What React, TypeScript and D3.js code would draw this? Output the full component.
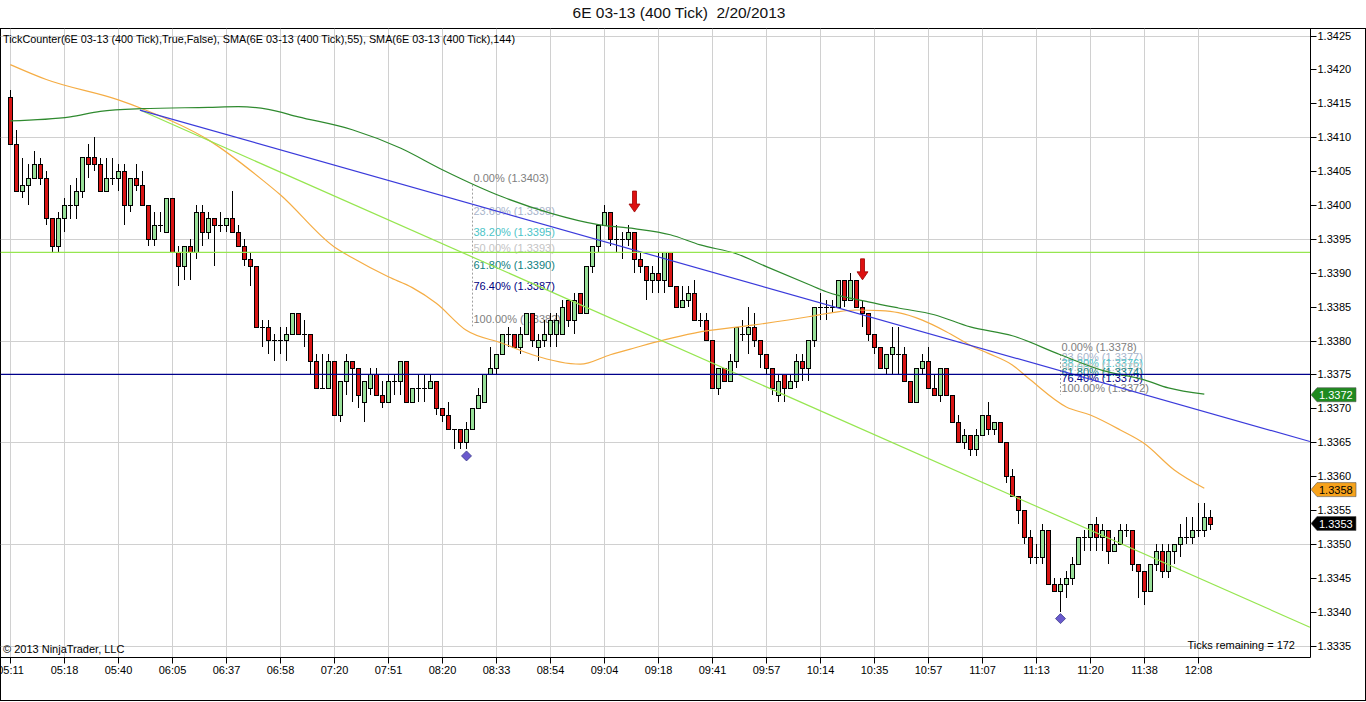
import React, { useEffect } from 'react'
import * as d3 from 'd3'

const W = 1366
const H = 702
const FONT = 'Arial, "Liberation Sans", sans-serif'

// time labels, one every 9 bars
const timeLabels = ['05:11', '05:18', '05:40', '06:05', '06:37', '06:58', '07:20', '07:51', '08:20', '08:33', '08:54', '09:04', '09:18', '09:41', '09:57', '10:14', '10:35', '10:57', '11:07', '11:13', '11:20', '11:38', '12:08']
const barsPerLabel = 9

// open, high, low, close
const ohlc: [number, number, number, number][] = [
  [1.3416, 1.3417, 1.3409, 1.3409], [1.3409, 1.3411, 1.3402, 1.3402], [1.3402, 1.3407, 1.3401, 1.3403], [1.3403, 1.3406, 1.3400, 1.3404],
  [1.3404, 1.3408, 1.3404, 1.3406], [1.3406, 1.3407, 1.3403, 1.3404], [1.3404, 1.3405, 1.3397, 1.3398], [1.3398, 1.3398, 1.3393, 1.3394],
  [1.3394, 1.3399, 1.3393, 1.3398], [1.3398, 1.3401, 1.3396, 1.3400], [1.3400, 1.3403, 1.3398, 1.3400], [1.3400, 1.3404, 1.3398, 1.3402],
  [1.3402, 1.3407, 1.3401, 1.3407], [1.3407, 1.3409, 1.3404, 1.3406], [1.3407, 1.3410, 1.3405, 1.3406], [1.3406, 1.3407, 1.3402, 1.3402],
  [1.3402, 1.3407, 1.3402, 1.3404], [1.3404, 1.3407, 1.3403, 1.3404], [1.3404, 1.3406, 1.3402, 1.3405], [1.3405, 1.3406, 1.3397, 1.3400],
  [1.3400, 1.3404, 1.3399, 1.3404], [1.3404, 1.3406, 1.3402, 1.3403], [1.3403, 1.3405, 1.3400, 1.3400], [1.3400, 1.3400, 1.3394, 1.3395],
  [1.3395, 1.3399, 1.3394, 1.3397], [1.3397, 1.3399, 1.3396, 1.3397], [1.3396, 1.3401, 1.3396, 1.3401], [1.3401, 1.3401, 1.3393, 1.3393],
  [1.3393, 1.3394, 1.3388, 1.3391], [1.3391, 1.3394, 1.3389, 1.3394], [1.3394, 1.3395, 1.3389, 1.3393], [1.3393, 1.3400, 1.3392, 1.3399],
  [1.3399, 1.3400, 1.3394, 1.3396], [1.3396, 1.3399, 1.3395, 1.3398], [1.3398, 1.3398, 1.3391, 1.3397], [1.3397, 1.3399, 1.3396, 1.3397],
  [1.3397, 1.3398, 1.3396, 1.3398], [1.3398, 1.3402, 1.3396, 1.3396], [1.3396, 1.3397, 1.3394, 1.3394], [1.3394, 1.3395, 1.3391, 1.3392],
  [1.3392, 1.3393, 1.3388, 1.3391], [1.3391, 1.3391, 1.3382, 1.3382], [1.3382, 1.3383, 1.3379, 1.3382], [1.3382, 1.3383, 1.3378, 1.3380],
  [1.3380, 1.3381, 1.3377, 1.3380], [1.3380, 1.3382, 1.3378, 1.3380], [1.3380, 1.3382, 1.3377, 1.3381], [1.3381, 1.3384, 1.3381, 1.3384],
  [1.3384, 1.3384, 1.3381, 1.3381], [1.3381, 1.3383, 1.3379, 1.3381], [1.3381, 1.3381, 1.3375, 1.3377], [1.3377, 1.3378, 1.3373, 1.3373],
  [1.3373, 1.3378, 1.3373, 1.3373], [1.3373, 1.3378, 1.3373, 1.3377], [1.3377, 1.3377, 1.3369, 1.3369], [1.3369, 1.3374, 1.3368, 1.3374],
  [1.3374, 1.3378, 1.3372, 1.3377], [1.3377, 1.3377, 1.3371, 1.3376], [1.3376, 1.3376, 1.3370, 1.3372], [1.3371, 1.3374, 1.3368, 1.3374],
  [1.3373, 1.3376, 1.3372, 1.3375], [1.3375, 1.3376, 1.3372, 1.3372], [1.3372, 1.3374, 1.3370, 1.3371], [1.3371, 1.3375, 1.3371, 1.3374],
  [1.3374, 1.3375, 1.3372, 1.3374], [1.3374, 1.3377, 1.3372, 1.3377], [1.3377, 1.3377, 1.3371, 1.3371], [1.3371, 1.3373, 1.3371, 1.3373],
  [1.3373, 1.3375, 1.3371, 1.3373], [1.3373, 1.3375, 1.3371, 1.3373], [1.3373, 1.3375, 1.3373, 1.3374], [1.3374, 1.3374, 1.3369, 1.3370],
  [1.3370, 1.3370, 1.3368, 1.3369], [1.3369, 1.3371, 1.3367, 1.3367], [1.3367, 1.3367, 1.3364, 1.3367], [1.3367, 1.3367, 1.3364, 1.3365],
  [1.3365, 1.3368, 1.3364, 1.3367], [1.3367, 1.3370, 1.3367, 1.3370], [1.3370, 1.3373, 1.3370, 1.3372], [1.3371, 1.3375, 1.3371, 1.3375],
  [1.3375, 1.3379, 1.3375, 1.3376], [1.3376, 1.3378, 1.3375, 1.3378], [1.3378, 1.3381, 1.3378, 1.3381], [1.3381, 1.3382, 1.3379, 1.3381],
  [1.3381, 1.3381, 1.3379, 1.3379], [1.3379, 1.3382, 1.3378, 1.3381], [1.3381, 1.3384, 1.3381, 1.3384], [1.3384, 1.3384, 1.3379, 1.3380],
  [1.3379, 1.3381, 1.3377, 1.3380], [1.3380, 1.3383, 1.3379, 1.3381], [1.3381, 1.3384, 1.3379, 1.3383], [1.3381, 1.3384, 1.3379, 1.3383],
  [1.3381, 1.3386, 1.3381, 1.3385], [1.3386, 1.3386, 1.3382, 1.3383], [1.3383, 1.3387, 1.3381, 1.3386], [1.3387, 1.3387, 1.3384, 1.3384],
  [1.3384, 1.3391, 1.3384, 1.3391], [1.3391, 1.3394, 1.3390, 1.3394], [1.3394, 1.3397, 1.3393, 1.3397], [1.3397, 1.3400, 1.3397, 1.3399],
  [1.3399, 1.3399, 1.3394, 1.3395], [1.3395, 1.3397, 1.3393, 1.3395], [1.3395, 1.3396, 1.3392, 1.3395], [1.3395, 1.3397, 1.3394, 1.3396],
  [1.3396, 1.3396, 1.3390, 1.3392], [1.3392, 1.3393, 1.3390, 1.3391], [1.3391, 1.3391, 1.3386, 1.3389], [1.3389, 1.3391, 1.3387, 1.3390],
  [1.3390, 1.3393, 1.3387, 1.3389], [1.3389, 1.3393, 1.3387, 1.3393], [1.3393, 1.3393, 1.3388, 1.3388], [1.3388, 1.3388, 1.3385, 1.3385],
  [1.3385, 1.3388, 1.3385, 1.3386], [1.3386, 1.3388, 1.3385, 1.3387], [1.3387, 1.3389, 1.3383, 1.3383], [1.3383, 1.3384, 1.3382, 1.3383],
  [1.3383, 1.3384, 1.3380, 1.3380], [1.3380, 1.3380, 1.3373, 1.3373], [1.3373, 1.3376, 1.3372, 1.3376], [1.3376, 1.3376, 1.3374, 1.3374],
  [1.3374, 1.3378, 1.3374, 1.3377], [1.3377, 1.3382, 1.3376, 1.3382], [1.3381, 1.3383, 1.3380, 1.3381], [1.3381, 1.3385, 1.3378, 1.3382],
  [1.3382, 1.3384, 1.3379, 1.3380], [1.3380, 1.3380, 1.3376, 1.3378], [1.3378, 1.3378, 1.3375, 1.3376], [1.3376, 1.3376, 1.3372, 1.3373],
  [1.3372, 1.3375, 1.3371, 1.3374], [1.3375, 1.3375, 1.3371, 1.3373], [1.3373, 1.3375, 1.3373, 1.3374], [1.3374, 1.3378, 1.3373, 1.3377],
  [1.3377, 1.3378, 1.3374, 1.3376], [1.3376, 1.3380, 1.3374, 1.3380], [1.3380, 1.3385, 1.3379, 1.3385], [1.3385, 1.3387, 1.3383, 1.3385],
  [1.3385, 1.3386, 1.3383, 1.3385], [1.3385, 1.3386, 1.3384, 1.3385], [1.3385, 1.3389, 1.3385, 1.3389], [1.3389, 1.3389, 1.3385, 1.3386],
  [1.3386, 1.3390, 1.3386, 1.3389], [1.3389, 1.3389, 1.3385, 1.3385], [1.3385, 1.3386, 1.3382, 1.3384], [1.3384, 1.3384, 1.3380, 1.3381],
  [1.3381, 1.3381, 1.3378, 1.3379], [1.3379, 1.3379, 1.3376, 1.3376], [1.3376, 1.3378, 1.3375, 1.3378], [1.3378, 1.3382, 1.3375, 1.3379],
  [1.3378, 1.3382, 1.3375, 1.3378], [1.3378, 1.3379, 1.3374, 1.3374], [1.3374, 1.3374, 1.3371, 1.3371], [1.3371, 1.3376, 1.3371, 1.3376],
  [1.3376, 1.3378, 1.3375, 1.3377], [1.3377, 1.3379, 1.3373, 1.3373], [1.3373, 1.3375, 1.3372, 1.3372], [1.3372, 1.3376, 1.3371, 1.3376],
  [1.3376, 1.3376, 1.3372, 1.3372], [1.3372, 1.3372, 1.3368, 1.3368], [1.3368, 1.3369, 1.3365, 1.3365], [1.3365, 1.3367, 1.3364, 1.3366],
  [1.3366, 1.3366, 1.3363, 1.3364], [1.3364, 1.3367, 1.3363, 1.3366], [1.3366, 1.3369, 1.3366, 1.3369], [1.3369, 1.3371, 1.3366, 1.3367],
  [1.3367, 1.3368, 1.3366, 1.3368], [1.3368, 1.3368, 1.3365, 1.3365], [1.3365, 1.3365, 1.3359, 1.3360], [1.3360, 1.3361, 1.3357, 1.3357],
  [1.3357, 1.3357, 1.3353, 1.3355], [1.3355, 1.3355, 1.3350, 1.3351], [1.3351, 1.3352, 1.3347, 1.3348], [1.3348, 1.3350, 1.3347, 1.3348],
  [1.3348, 1.3353, 1.3347, 1.3352], [1.3352, 1.3352, 1.3344, 1.3344], [1.3344, 1.3345, 1.3343, 1.3343], [1.3343, 1.3345, 1.3340, 1.3344],
  [1.3344, 1.3346, 1.3342, 1.3345], [1.3345, 1.3348, 1.3344, 1.3347], [1.3347, 1.3351, 1.3347, 1.3351], [1.3351, 1.3352, 1.3349, 1.3351],
  [1.3351, 1.3353, 1.3349, 1.3353], [1.3353, 1.3354, 1.3349, 1.3351], [1.3351, 1.3353, 1.3349, 1.3352], [1.3352, 1.3352, 1.3347, 1.3349],
  [1.3349, 1.3351, 1.3349, 1.3350], [1.3350, 1.3353, 1.3350, 1.3352], [1.3352, 1.3353, 1.3351, 1.3352], [1.3352, 1.3352, 1.3346, 1.3347],
  [1.3347, 1.3347, 1.3342, 1.3346], [1.3346, 1.3346, 1.3341, 1.3343], [1.3343, 1.3347, 1.3343, 1.3347], [1.3347, 1.3350, 1.3346, 1.3349],
  [1.3349, 1.3350, 1.3345, 1.3346], [1.3346, 1.3350, 1.3345, 1.3349], [1.3349, 1.3350, 1.3347, 1.3350], [1.3350, 1.3353, 1.3348, 1.3351],
  [1.3351, 1.3354, 1.3350, 1.3351], [1.3351, 1.3354, 1.3350, 1.3352], [1.3352, 1.3356, 1.3351, 1.3352], [1.3352, 1.3356, 1.3351, 1.3354],
  [1.3354, 1.3355, 1.3352, 1.3353],
]

// SMA readings: [bar index, value]
const sma55: [number, number][] = [
  [0, 1.34207], [6, 1.34185], [18, 1.34155], [22, 1.34142], [33, 1.34096], [42, 1.34037], [45, 1.34015], [54, 1.33938],
  [57, 1.33922], [63, 1.33894], [67, 1.33878], [71, 1.33855], [76, 1.33815], [82, 1.33796], [87, 1.33779], [95, 1.33765],
  [100, 1.33779], [104, 1.33789], [109, 1.33801], [114, 1.33811], [124, 1.33823], [133, 1.33835], [137, 1.33841], [141, 1.33845],
  [145, 1.33844], [148, 1.33841], [152, 1.3383], [156, 1.33813], [160, 1.33793], [163, 1.33781], [167, 1.33764], [170, 1.33742],
  [176, 1.33702], [180, 1.3369], [185, 1.33668], [189, 1.33648], [194, 1.33609], [199, 1.33582],
]
const sma144: [number, number][] = [
  [0, 1.34124], [10, 1.3413], [15, 1.34138], [22, 1.34142], [33, 1.34144], [38, 1.34145], [43, 1.34141], [48, 1.3413],
  [57, 1.34111], [65, 1.34084], [72, 1.34052], [82, 1.34012], [90, 1.33988], [98, 1.33971], [104, 1.33965], [110, 1.33956],
  [115, 1.33941], [121, 1.33928], [126, 1.33909], [133, 1.33883], [136, 1.33872], [143, 1.33857], [148, 1.33848], [154, 1.33838],
  [160, 1.3382], [167, 1.33807], [175, 1.33779], [182, 1.33756], [189, 1.33742], [193, 1.3373], [199, 1.33721],
]

// drawn objects
const trendBlue: [number, number][] = [[21.6, 1.3414], [216.6, 1.33651]]
const trendLime: [number, number][] = [[21.6, 1.3414], [216.6, 1.33377]]
const hLines = [
  { price: 1.3393, color: '#96e650' },
  { price: 1.3375, color: '#00008b' },
]
const fibRatios = [0, 0.236, 0.382, 0.5, 0.618, 0.764, 1]
const fibColors = ['#808080', '#a9b5cc', '#4cc4c8', '#c4c4c4', '#108080', '#000080', '#808080']
const fibs = [
  { bar: 77, high: 1.3403, low: 1.33821 },
  { bar: 175, high: 1.3378, low: 1.3372 },
]
const downArrows = [104, 142]
const diamonds = [76, 175]
const priceTags = [
  { price: 1.3372, fill: '#1f8a1f', text: '#ffffff' },
  { price: 1.3358, fill: '#f7a21b', text: '#000000' },
  { price: 1.3353, fill: '#000000', text: '#ffffff' },
]

const PLOT = { left: 0.5, right: 1310.5, top: 28.5, bottom: 657.5 }

export default function App() {
  useEffect(() => {
    document.body.style.margin = '0'
    document.body.style.overflow = 'hidden'
  }, [])

  const x = d3.scaleLinear().domain([0, 200]).range([10.3, 1210.3])
  const y = d3.scaleLinear().domain([1.3335, 1.3425]).range([645.5, 35.5])

  const priceTicks = d3.range(0, 19).map((i) => 1.3335 + i * 0.0005)
  const gridPrices = d3.range(0, 7).map((i) => 1.3335 + i * 0.0015)

  const smaLine = d3.line<[number, number]>()
    .x((d) => x(d[0]))
    .y((d) => y(d[1]))
    .curve(d3.curveMonotoneX)
  const straight = d3.line<[number, number]>().x((d) => x(d[0])).y((d) => y(d[1]))

  const up = '#98e098'
  const down = '#d81414'

  return (
    <svg width={W} height={H} style={{ display: 'block', background: '#fff' }} fontFamily={FONT}>
      <defs>
        <clipPath id="plot">
          <rect x={PLOT.left} y={PLOT.top} width={PLOT.right - PLOT.left} height={PLOT.bottom - PLOT.top} />
        </clipPath>
      </defs>

      <text x={679} y={18} textAnchor="middle" fontSize={15.5} fill="#111" style={{ whiteSpace: 'pre' }}>
        {'6E 03-13 (400 Tick)  2/20/2013'}
      </text>

      {/* outer frame */}
      <rect x={0.5} y={28.5} width={1365} height={672} fill="none" stroke="#000" />

      <g clipPath="url(#plot)">
        {/* grid */}
        {timeLabels.map((t, i) => (
          <line key={t} x1={Math.round(x(i * barsPerLabel)) + 0.5} x2={Math.round(x(i * barsPerLabel)) + 0.5}
            y1={PLOT.top} y2={PLOT.bottom} stroke="#d0d0d0" />
        ))}
        {gridPrices.map((p) => (
          <line key={p} x1={PLOT.left} x2={PLOT.right} y1={Math.round(y(p)) + 0.5} y2={Math.round(y(p)) + 0.5} stroke="#d0d0d0" />
        ))}

        {/* fibonacci retracements */}
        {fibs.map((f, fi) => {
          const fx = Math.round(x(f.bar)) + 0.5
          return (
            <g key={fi}>
              <line x1={fx} x2={fx} y1={y(f.high)} y2={y(f.low)} stroke="#a0a0a0" strokeDasharray="2,2" />
              {fibRatios.map((r, ri) => {
                const p = f.high - r * (f.high - f.low)
                return (
                  <text key={r} x={fx + 1} y={y(p) - 3} fontSize={11} fill={fibColors[ri]}>
                    {`${(r * 100).toFixed(2)}% (${p.toFixed(4)})`}
                  </text>
                )
              })}
            </g>
          )
        })}

        {/* candles */}
        <g shapeRendering="crispEdges">
          {ohlc.map(([o, h, l, c], i) => {
            const cx = Math.round(x(i)) + 0.5
            const top = Math.round(y(Math.max(o, c)))
            const bot = Math.round(y(Math.min(o, c)))
            return (
              <g key={i}>
                <line x1={cx} x2={cx} y1={y(Math.max(h, o, c))} y2={y(Math.min(l, o, c))} stroke="#000" />
                {o === c ? (
                  <line x1={cx - 2.5} x2={cx + 2.5} y1={top + 0.5} y2={top + 0.5} stroke="#000" />
                ) : (
                  <rect x={cx - 2} y={top + 0.5} width={4} height={Math.max(1, bot - top)}
                    fill={c > o ? up : down} stroke="#000" />
                )}
              </g>
            )
          })}
        </g>

        {/* moving averages */}
        <path d={smaLine(sma55) ?? ''} fill="none" stroke="#f5ad45" strokeWidth={1.2} />
        <path d={smaLine(sma144) ?? ''} fill="none" stroke="#2f8a2f" strokeWidth={1.2} />

        {/* trend lines */}
        <path d={straight(trendLime) ?? ''} fill="none" stroke="#96e650" strokeWidth={1.2} />
        <path d={straight(trendBlue) ?? ''} fill="none" stroke="#3b3bdb" strokeWidth={1.2} />
        {hLines.map((hl) => (
          <line key={hl.price} x1={PLOT.left} x2={PLOT.right} y1={y(hl.price)} y2={y(hl.price)} stroke={hl.color} strokeWidth={1.2} />
        ))}

        {/* signals */}
        {downArrows.map((b) => {
          const cx = Math.round(x(b)) + 0.5
          const tip = y(ohlc[b][1]) - 20
          const pts = [
            [cx - 2, tip - 21], [cx + 2, tip - 21], [cx + 2, tip - 8], [cx + 5.5, tip - 8],
            [cx, tip], [cx - 5.5, tip - 8], [cx - 2, tip - 8],
          ].map((p) => p.join(',')).join(' ')
          return <polygon key={b} points={pts} fill="#dd1111" stroke="#9a0000" strokeWidth={0.8} />
        })}
        {diamonds.map((b) => {
          const cx = Math.round(x(b)) + 0.5
          const cy = y(ohlc[b][2]) + 7
          const pts = [[cx, cy - 5], [cx + 5, cy], [cx, cy + 5], [cx - 5, cy]].map((p) => p.join(',')).join(' ')
          return <polygon key={b} points={pts} fill="#6a5acd" stroke="#3a3a8a" strokeWidth={0.8} />
        })}

        <text x={3} y={43} fontSize={11} fill="#000" textLength={512} lengthAdjust="spacingAndGlyphs">
          TickCounter(6E 03-13 (400 Tick),True,False), SMA(6E 03-13 (400 Tick),55), SMA(6E 03-13 (400 Tick),144)
        </text>
        <text x={3} y={653} fontSize={11} fill="#000">© 2013 NinjaTrader, LLC</text>
        <text x={1295} y={649} fontSize={11} fill="#000" textAnchor="end">Ticks remaining = 172</text>
      </g>

      {/* axes */}
      <line x1={PLOT.right} x2={PLOT.right} y1={PLOT.top} y2={PLOT.bottom} stroke="#000" />
      <line x1={0} x2={PLOT.right} y1={PLOT.bottom} y2={PLOT.bottom} stroke="#000" />

      {priceTicks.map((p) => (
        <g key={p}>
          <line x1={PLOT.right} x2={PLOT.right + 6} y1={Math.round(y(p)) + 0.5} y2={Math.round(y(p)) + 0.5} stroke="#000" />
          <text x={PLOT.right + 7} y={y(p) + 4} fontSize={11} fill="#000">{p.toFixed(4)}</text>
        </g>
      ))}

      {priceTags.map((t) => {
        const ty = y(t.price)
        const pts = [[1311, ty], [1317, ty - 7], [1356, ty - 7], [1356, ty + 7], [1317, ty + 7]]
          .map((p) => p.join(',')).join(' ')
        return (
          <g key={t.price}>
            <polygon points={pts} fill={t.fill} stroke="#555" strokeWidth={0.6} />
            <text x={1319} y={ty + 4} fontSize={11} fill={t.text}>{t.price.toFixed(4)}</text>
          </g>
        )
      })}

      {timeLabels.map((t, i) => {
        const tx = Math.round(x(i * barsPerLabel)) + 0.5
        return (
          <g key={t}>
            <line x1={tx} x2={tx} y1={PLOT.bottom} y2={PLOT.bottom + 6} stroke="#000" />
            <text x={tx} y={674} fontSize={11} textAnchor="middle" fill="#000">{t}</text>
          </g>
        )
      })}
    </svg>
  )
}
